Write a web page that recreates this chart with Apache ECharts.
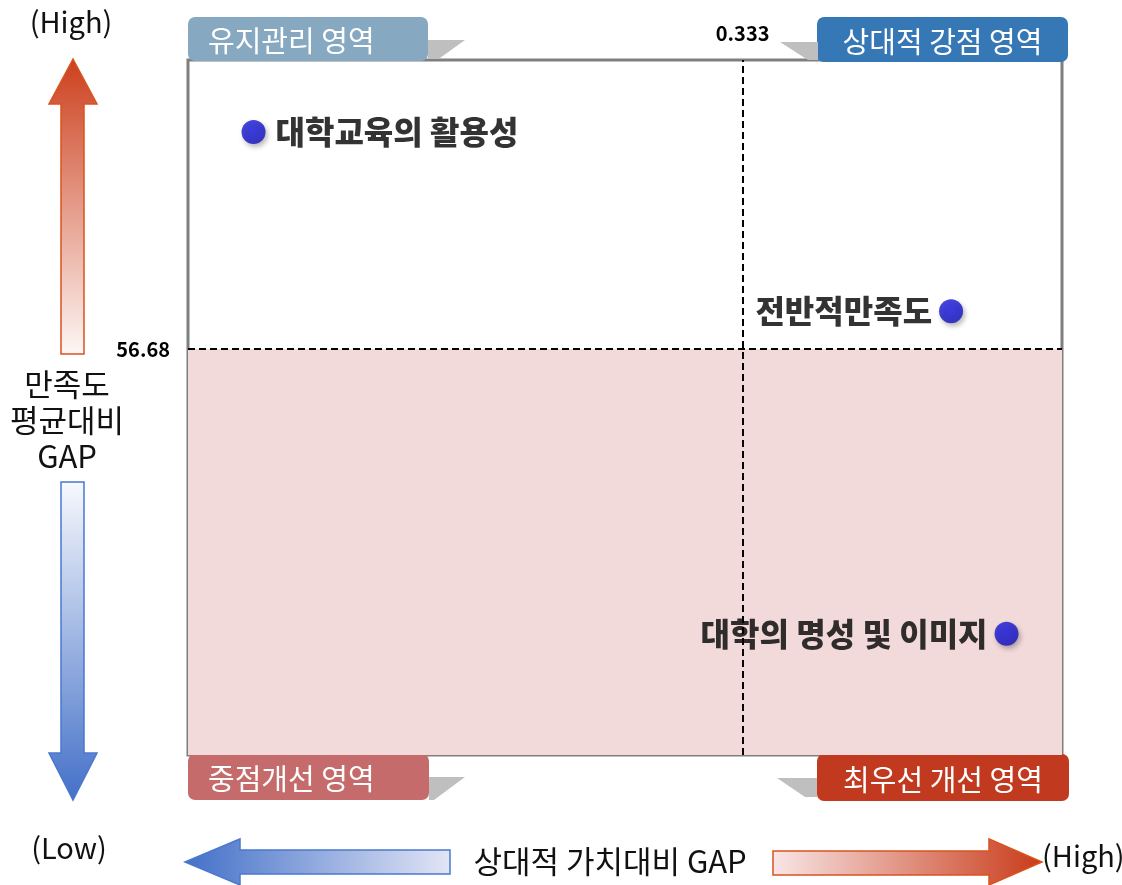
<!DOCTYPE html>
<html>
<head>
<meta charset="utf-8">
<script src="https://cdn.jsdelivr.net/npm/echarts@6/dist/echarts.min.js"></script>
<style>
  html, body { margin: 0; padding: 0; background: #fff; }
  #chart { width: 1122px; height: 885px; }
</style>
</head>
<body>
<div id="chart"></div>
<script>
/* 만족도 평균대비 GAP x 상대적 가치대비 GAP 사분면 */
const FONT = "'Noto Sans CJK KR', 'Noto Sans', sans-serif";

const pointNames = ["대학교육의 활용성", "전반적만족도", "대학의 명성 및 이미지"];
const valueGap = [0.039, 0.454, 0.487];          // x: 상대적 가치대비 GAP
const satisfactionGap = [62.93, 57.77, 48.49];   // y: 만족도 평균대비 GAP
const labelSides = ["right", "left", "left"];
const xMean = 0.333;
const yMean = 56.68;
const xRange = [0, 0.52];
const yRange = [45, 65];
const quadrantNames = ["유지관리 영역", "상대적 강점 영역", "중점개선 영역", "최우선 개선 영역"];

const C = {
  border: "#7f7f7f",
  pink: "#f2d9da",
  tabTL: "#86a9c1",
  tabTR: "#3677b5",
  tabBL: "#c56b6b",
  tabBR: "#c1391e",
  shade: "#bfbfbf",
};

const chart = echarts.init(document.getElementById("chart"), null, { renderer: "canvas" });

function tab(x, y, w, h, color, text, align) {
  return {
    type: "group", z: 100,
    children: [
      { type: "rect", shape: { x: x, y: y, width: w, height: h, r: 7 }, style: { fill: color } },
      {
        type: "text",
        x: align === "center" ? x + w / 2 : x + 20,
        y: y + h / 2 + 2,
        style: {
          text: text, fill: "#fff", font: "29px " + FONT,
          align: align === "center" ? "center" : "left", verticalAlign: "middle",
        },
      },
    ],
  };
}

function shade(points) {
  return { type: "polygon", z: 99, shape: { points: points }, style: { fill: C.shade } };
}

function grad(x2, y2, c0, c1) {
  return new echarts.graphic.LinearGradient(0, 0, x2, y2, [
    { offset: 0, color: c0 }, { offset: 1, color: c1 },
  ]);
}

const graphics = [
  // 사분면 탭
  shade([[428, 40], [465, 40], [440, 58], [428, 58]]),
  shade([[780, 42], [818, 42], [818, 60], [808, 60]]),
  shade([[429, 777], [465, 777], [434, 800], [429, 800]]),
  shade([[777, 778], [817, 778], [817, 797], [805, 797]]),
  tab(188, 17, 240, 44, C.tabTL, quadrantNames[0], "left"),
  tab(817, 17, 251, 45, C.tabTR, quadrantNames[1], "center"),
  tab(188, 754, 241, 46, C.tabBL, quadrantNames[2], "left"),
  tab(817, 754, 252, 47, C.tabBR, quadrantNames[3], "center"),

  // 세로 화살표
  {
    type: "polygon",
    shape: { points: [[73, 59], [97, 104], [84, 104], [84, 354], [61, 354], [61, 104], [49, 104]] },
    style: { fill: grad(0, 1, "#cc3f1c", "#fdf7f6"), stroke: "#d9531e", lineWidth: 1.5 },
  },
  {
    type: "polygon",
    shape: { points: [[61, 482], [84, 482], [84, 753], [97, 753], [73, 800], [49, 753], [61, 753]] },
    style: { fill: grad(0, 1, "#f8f9fd", "#4370c8"), stroke: "#4a78d0", lineWidth: 1.5 },
  },
  // 가로 화살표
  {
    type: "polygon",
    shape: { points: [[185, 862], [240, 839], [240, 850], [450, 850], [450, 874], [240, 874], [240, 885]] },
    style: { fill: grad(1, 0, "#4370c8", "#e2e5f5"), stroke: "#4a78d0", lineWidth: 1.5 },
  },
  {
    type: "polygon",
    shape: { points: [[773, 851], [989, 851], [989, 839], [1042, 862], [989, 885], [989, 875], [773, 875]] },
    style: { fill: grad(1, 0, "#f8e6e6", "#c93b1a"), stroke: "#d9531e", lineWidth: 1.5 },
  },

  // 축 설명 텍스트
  { type: "text", x: 71, y: 22, style: { text: "(High)", font: "29px " + FONT, fill: "#111", align: "center", verticalAlign: "middle" } },
  { type: "text", x: 69, y: 848, style: { text: "(Low)", font: "29px " + FONT, fill: "#111", align: "center", verticalAlign: "middle" } },
  { type: "text", x: 67, y: 420, style: { text: "만족도\n평균대비\nGAP", font: "31px " + FONT, lineHeight: 36, fill: "#111", align: "center", verticalAlign: "middle" } },
  { type: "text", x: 610, y: 861, style: { text: "상대적 가치대비 GAP", font: "31px " + FONT, fill: "#111", align: "center", verticalAlign: "middle" } },
  { type: "text", x: 1042, y: 856, style: { text: "(High)", font: "29px " + FONT, fill: "#111", align: "left", verticalAlign: "middle" } },
];

chart.setOption({
  animation: false,
  grid: { left: 188, right: 60, top: 60, bottom: 130, show: true, borderColor: C.border, borderWidth: 3, backgroundColor: "transparent" },
  xAxis: {
    type: "value", min: xRange[0], max: xRange[1],
    axisLine: { show: false }, axisTick: { show: false }, axisLabel: { show: false }, splitLine: { show: false },
  },
  yAxis: {
    type: "value", min: yRange[0], max: yRange[1],
    axisLine: { show: false }, axisTick: { show: false }, axisLabel: { show: false }, splitLine: { show: false },
  },
  series: [{
    type: "scatter",
    symbol: "circle",
    symbolSize: 24,
    itemStyle: {
      color: new echarts.graphic.RadialGradient(0.45, 0.4, 0.6, [
        { offset: 0, color: "#1c1ce6" }, { offset: 1, color: "#1212c0" },
      ]),
      shadowBlur: 5, shadowColor: "rgba(0,0,0,0.35)", shadowOffsetX: 2, shadowOffsetY: 3,
    },
    data: pointNames.map((n, i) => ({
      name: n,
      value: [valueGap[i], satisfactionGap[i]],
      label: {
        show: true, position: labelSides[i], distance: labelSides[i] === "right" ? 10 : 7,
        formatter: "{b}", color: "#000", fontSize: 32, fontWeight: 900, fontFamily: FONT,
      },
    })),
    markArea: {
      silent: true,
      itemStyle: { color: C.pink },
      data: [[{ yAxis: yRange[0] }, { yAxis: yMean }]],
    },
    markLine: {
      silent: true,
      symbol: ["none", "none"],
      lineStyle: { color: "#000", type: [7, 4], width: 2 },
      data: [
        { xAxis: xMean, label: { show: true, position: "end", distance: 17, formatter: String(xMean), color: "#000", fontSize: 20, fontWeight: "bold", fontFamily: FONT } },
        { yAxis: yMean, label: { show: true, position: "start", distance: 18, formatter: String(yMean), color: "#000", fontSize: 20, fontWeight: "bold", fontFamily: FONT } },
      ],
    },
  }],
  graphic: graphics,
});
</script>
</body>
</html>
